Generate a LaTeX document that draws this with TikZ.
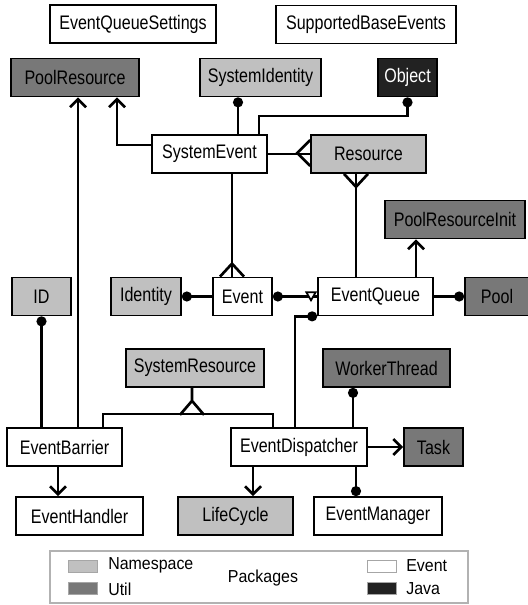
\documentclass[tikz,border=0pt]{standalone}
\usepackage{fontspec}
\newfontfamily\boxfont[FakeStretch=0.82]{Liberation Sans}
\newfontfamily\legfont[FakeStretch=0.92]{Liberation Sans}
\usetikzlibrary{arrows.meta,shapes.geometric}
\definecolor{nsgray}{HTML}{C0C0C0}
\definecolor{utilgray}{HTML}{787878}
\definecolor{javablack}{HTML}{222222}
\begin{document}
\begin{tikzpicture}[x=0.75pt, y=-0.75pt]
  \tikzstyle{box}=[draw, line width=1.3pt, inner sep=0pt, minimum height=28.5pt,
                   font=\boxfont\fontsize{14.7}{16}\selectfont]
  \tikzstyle{event}=[box, fill=white]
  \tikzstyle{ns}=[box, fill=nsgray]
  \tikzstyle{util}=[box, fill=utilgray]
  \tikzstyle{java}=[box, fill=javablack, text=white]
  \tikzstyle{line}=[line width=2pt]
  \tikzstyle{arr}=[line, -{Straight Barb[length=6pt,width=12pt]}]
  \tikzstyle{dot}=[line, -{Circle[length=7.5pt]}]
  \tikzstyle{swatch}=[draw=gray!70, line width=0.6pt, minimum width=21.75pt, minimum height=9pt, inner sep=0pt]
  \tikzstyle{legtext}=[font=\legfont\fontsize{13}{14}\selectfont, inner sep=0pt]
  \useasboundingbox (0,0) rectangle (527,605);
%  \tikzstyle{every node}=[draw]
  \node[event, minimum width=124.5pt] (EventQueueSettings) at (133,24) {EventQueueSettings};
  \node[event, minimum width=135pt] (SupportedBaseEvents) at (366,24.5) {SupportedBaseEvents};
  \node[util, minimum width=96pt] (PoolResource) at (75,77.5) {PoolResource};
  \node[ns, minimum width=90.75pt] (SystemIdentity) at (260.5,77.5) {SystemIdentity};
  \node[java, minimum width=44.25pt] (Object) at (407.5,77.5) {Object};
  \node[event, minimum width=86.25pt] (SystemEvent) at (209.5,154) {SystemEvent};
  \node[ns, minimum width=86.25pt] (Resource) at (368.5,154) {Resource};
  \node[util, minimum width=105pt] (PoolResourceInit) at (455,219.5) {PoolResourceInit};
  \node[ns, minimum width=44.25pt] (ID) at (41.5,296.5) {ID};
  \node[ns, minimum width=52.5pt] (Identity) at (146,296.5) {Identity};
  \node[event, minimum width=44.25pt] (Event) at (242.5,296.5) {Event};
  \node[event, minimum width=86.25pt] (EventQueue) at (375.5,296.5) {EventQueue};
  \node[util, minimum width=48pt] (Pool) at (497,296.5) {Pool};
  \node[ns, minimum width=103.5pt] (SystemResource) at (195,368) {SystemResource};
  \node[util, minimum width=95.25pt] (WorkerThread) at (386.5,368) {WorkerThread};
  \node[event, minimum width=86.25pt] (EventBarrier) at (64.5,447) {EventBarrier};
  \node[event, minimum width=102pt] (EventDispatcher) at (299,447) {EventDispatcher};
  \node[util, minimum width=44.25pt] (Task) at (433.5,447) {Task};
  \node[event, minimum width=95.25pt] (EventHandler) at (79.5,516) {EventHandler};
  \node[ns, minimum width=86.25pt] (LifeCycle) at (235.5,516) {LifeCycle};
  \node[event, minimum width=96pt] (EventManager) at (378,516) {EventManager};

  \draw[arr] (SystemEvent.west |- 0,145) -| (117,0 |- PoolResource.south);
  \draw[arr] (78,0 |- EventBarrier.north) -- (78,0 |- PoolResource.south);
  \draw[dot] (238,0 |- SystemEvent.north) -- (238,0 |- SystemIdentity.south);
  \draw[dot] (259,0 |- SystemEvent.north) |- (Object.south |- 0,116) -- (Object.south);
  \draw[line] (SystemEvent.east) -- (Resource.west);
  \draw[line] (Resource.west |- 0,140) -- ++(-13,13) -- ++(13,13);
  \draw[line] (232,0 |- SystemEvent.south) -- (232,0 |- Event.north);
  \draw[line] (220,0 |- Event.north) -- ++(12,-13) -- ++(12,13);
  \draw[line] (356,0 |- Resource.south) -- (356,0 |- EventQueue.north);
  \draw[line] (344,0 |- Resource.south) -- ++(12,13) -- ++(12,-13);
  \draw[arr] (416,0 |- EventQueue.north) -- (416,0 |- PoolResourceInit.south);
  \draw[line, {Circle[length=7.5pt]}-] (Identity.east) -- (Event.west);
  \draw[line, {Circle[length=7.5pt]}-] (Event.east) -- (EventQueue.west);
  \node[draw, line width=1.3pt, regular polygon, regular polygon sides=3, shape border rotate=180,
        minimum size=8pt, inner sep=0pt, fill=white] (tri) at (311,295) {};
  \draw[dot] (295,0 |- EventDispatcher.north) |- (EventQueue.south west);
  \draw[dot] (EventQueue.east) -- (Pool.west);
  \draw[dot] (ID.south |- EventBarrier.north) -- (ID.south);
  \draw[line] (192,0 |- SystemResource.south) -- ++(0,13) ++(-12,14) -- ++(12,-14) -- ++(12,14);
  \draw[line] (103,0 |- EventBarrier.north) -- (103,414) -| (273,0 |- EventDispatcher.north);
  \draw[dot] (353,0 |- EventDispatcher.north) -- (353,0 |- WorkerThread.south);
  \draw[arr] (EventDispatcher.east) -- (Task.west);
  \draw[arr] (58,0 |- EventBarrier.south) -- (58,0 |- EventHandler.north);
  \draw[arr] (253,0 |- EventDispatcher.south) -- (253,0 |- LifeCycle.north);
  \draw[dot] (356,0 |- EventDispatcher.south) -- (356,0 |- EventManager.north);

  \node[draw=gray!60, line width=0.9pt, minimum width=313.5pt, minimum height=39pt] (legend) at (259,577) {};
  \node[swatch, fill=nsgray] (nsbox) at (82.5,566) {};
  \node[swatch, fill=utilgray] (utilbox) at (82.5,588) {};
  \node[swatch, fill=white] (eventbox) at (381.5,566) {};
  \node[swatch, fill=javablack] (javabox) at (381.5,588) {};
  \node[legtext, anchor=west] (nstext) at (108,565) {Namespace};
  \node[legtext, anchor=west] (utiltext) at (108,589) {Util};
  \node[legtext] (packages) at (263,578) {Packages};
  \node[legtext, anchor=west] (eventtext) at (406,566) {Event};
  \node[legtext, anchor=west] (javatext) at (406,589) {Java};
\end{tikzpicture}
\end{document}
